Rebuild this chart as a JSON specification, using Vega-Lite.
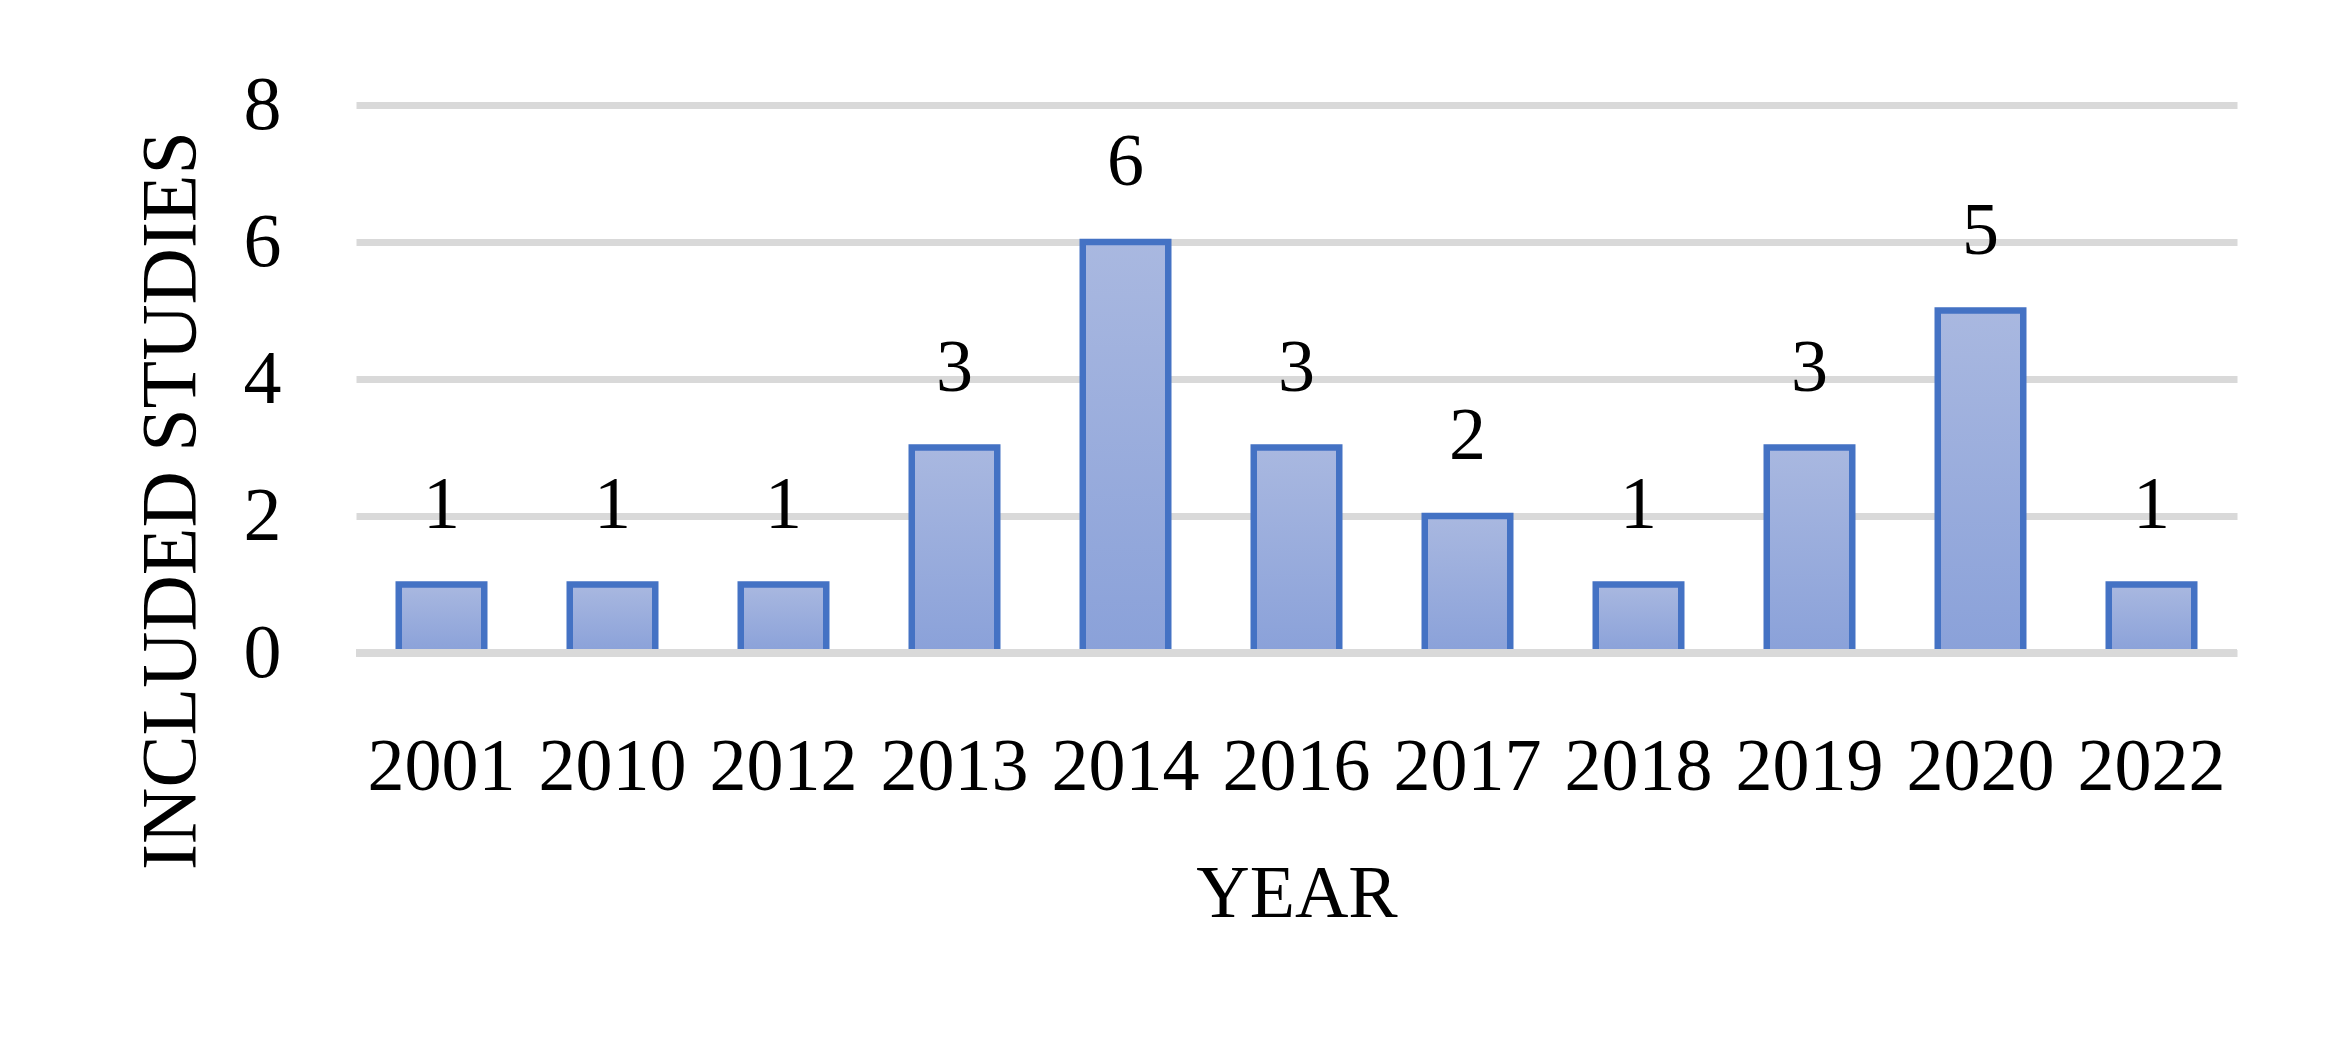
{
  "$schema": "https://vega.github.io/schema/vega-lite/v6.json",
  "width": 1881,
  "height": 548,
  "autosize": {"type": "none"},
  "padding": {"left": 356, "top": 105, "right": 103, "bottom": 397},
  "background": "white",
  "config": {"view": {"stroke": null}, "font": "Liberation Serif"},
  "data": {"values": [
    {"year": "2001", "count": 1},
    {"year": "2010", "count": 1},
    {"year": "2012", "count": 1},
    {"year": "2013", "count": 3},
    {"year": "2014", "count": 6},
    {"year": "2016", "count": 3},
    {"year": "2017", "count": 2},
    {"year": "2018", "count": 1},
    {"year": "2019", "count": 3},
    {"year": "2020", "count": 5},
    {"year": "2022", "count": 1}
  ]},
  "encoding": {
    "x": {
      "field": "year", "type": "ordinal",
      "scale": {"paddingInner": 0.5, "paddingOuter": 0.25},
      "axis": {
        "title": "YEAR", "labelAngle": 0, "domain": false, "ticks": false,
        "labelFont": "Liberation Serif", "labelFontSize": 74, "labelColor": "#000000",
        "labelBaseline": "middle", "labelPadding": 114,
        "titleFont": "Liberation Serif", "titleFontSize": 74, "titleFontWeight": "normal", "titleColor": "#000000",
        "titleBaseline": "middle", "titleY": 241
      }
    },
    "y": {
      "field": "count", "type": "quantitative",
      "scale": {"domain": [0, 8]},
      "axis": {
        "title": "INCLUDED STUDIES", "values": [0, 2, 4, 6, 8], "domain": false, "ticks": false,
        "grid": true, "gridColor": "#D9D9D9", "gridWidth": 7,
        "labelFont": "Liberation Serif", "labelFontSize": 76, "labelColor": "#000000",
        "labelPadding": 75, "labelBaseline": "middle",
        "titleFont": "Liberation Serif", "titleFontSize": 78, "titleFontWeight": "normal", "titleColor": "#000000",
        "titleAngle": -90, "titleAlign": "center", "titleBaseline": "middle",
        "titleX": -185, "titleY": 395
      }
    }
  },
  "layer": [
    {
      "mark": {
        "type": "bar",
        "stroke": "#4472C4",
        "strokeWidth": 6.5,
        "color": {
          "gradient": "linear", "x1": 0, "y1": 0, "x2": 0, "y2": 1,
          "stops": [
            {"offset": 0, "color": "#A9B8E0"},
            {"offset": 1, "color": "#8AA1D9"}
          ]
        }
      }
    },
    {
      "mark": {"type": "rule", "color": "#D9D9D9", "strokeWidth": 7},
      "encoding": {"y": {"datum": 0}, "x": null}
    },
    {
      "mark": {"type": "text", "fontSize": 74, "font": "Liberation Serif", "color": "#000000", "baseline": "middle", "dy": -79},
      "encoding": {"text": {"field": "count", "type": "quantitative"}}
    }
  ]
}
